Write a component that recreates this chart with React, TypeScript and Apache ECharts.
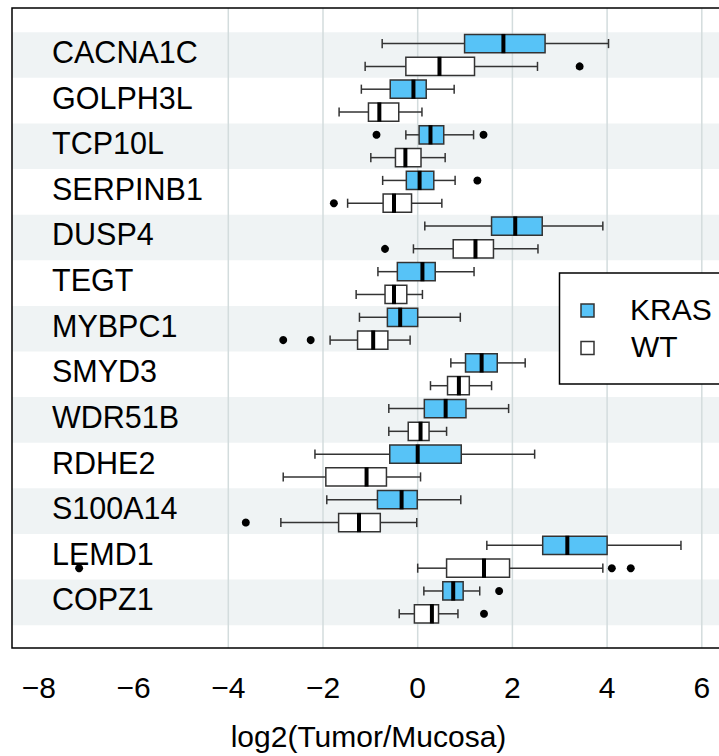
import React, { useEffect, useRef } from "react";
import * as echarts from "echarts";

const genes = ["CACNA1C", "GOLPH3L", "TCP10L", "SERPINB1", "DUSP4", "TEGT", "MYBPC1", "SMYD3", "WDR51B", "RDHE2", "S100A14", "LEMD1", "COPZ1"];
const groups = ["KRAS", "WT"];
const groupColors = ["#57c3f7", "#ffffff"];

// [low whisker, Q1, median, Q3, high whisker]
const krasStats = [
  [-0.75, 0.99, 1.81, 2.69, 4.03],
  [-1.19, -0.58, -0.09, 0.18, 0.77],
  [-0.25, 0.03, 0.27, 0.55, 1.18],
  [-0.74, -0.24, 0.04, 0.34, 0.79],
  [0.15, 1.56, 2.06, 2.63, 3.91],
  [-0.84, -0.43, 0.1, 0.37, 1.19],
  [-1.23, -0.64, -0.37, 0.0, 0.9],
  [0.7, 1.01, 1.35, 1.68, 2.27],
  [-0.61, 0.14, 0.59, 1.02, 1.92],
  [-2.17, -0.59, 0.0, 0.92, 2.47],
  [-1.92, -0.85, -0.34, -0.01, 0.91],
  [1.46, 2.64, 3.16, 4.0, 5.56],
  [0.13, 0.53, 0.75, 0.96, 1.31],
];
const wtStats = [
  [-1.11, -0.25, 0.46, 1.2, 2.53],
  [-1.66, -1.04, -0.81, -0.4, 0.09],
  [-0.99, -0.47, -0.26, 0.07, 0.58],
  [-1.48, -0.73, -0.5, -0.13, 0.51],
  [-0.09, 0.75, 1.22, 1.6, 2.54],
  [-1.3, -0.69, -0.5, -0.23, 0.1],
  [-1.85, -1.27, -0.94, -0.63, -0.16],
  [0.27, 0.63, 0.87, 1.09, 1.56],
  [-0.61, -0.2, 0.06, 0.24, 0.61],
  [-2.84, -1.94, -1.08, -0.66, 0.06],
  [-2.89, -1.67, -1.24, -0.79, -0.02],
  [0.0, 0.61, 1.4, 1.94, 3.91],
  [-0.39, -0.07, 0.3, 0.44, 0.85],
];
// outliers: [gene index, value]
const krasOutliers = [[2, -0.87], [2, 1.39], [3, 1.26], [12, 1.72]];
const wtOutliers = [[0, 3.42], [3, -1.77], [4, -0.69], [6, -2.84], [6, -2.26], [10, -3.63], [11, -7.15], [11, 4.1], [11, 4.5], [12, 1.4]];

const xTicks = [-8, -6, -4, -2, 0, 2, 4, 6];
const gridValues = [-4, -2, 0, 2, 4, 6];
const shadedRows = [0, 2, 4, 6, 8, 10, 12];
const xTitle = "log2(Tumor/Mucosa)";

const FONT = "'Liberation Sans', Arial, Helvetica, sans-serif";
const OFFSETS = [-0.25, 0.25];

function boxSeries(stats: number[][], gi: number) {
  return {
    type: "custom",
    name: groups[gi],
    z: 3,
    data: stats.map((s, i) => [i, ...s]),
    encode: { x: [1, 2, 3, 4, 5], y: 0 },
    renderItem: (params: any, api: any) => {
      const y = api.value(0) + OFFSETS[gi];
      const p = (k: number) => api.coord([api.value(k), y]);
      const lo = p(1), q1 = p(2), md = p(3), q3 = p(4), hi = p(5);
      const hh = Math.abs(api.size([0, 0.2])[1]);
      const ch = Math.abs(api.size([0, 0.1])[1]);
      const cy = lo[1];
      const ls = { stroke: "#333", lineWidth: 1.5 };
      return {
        type: "group",
        children: [
          { type: "line", shape: { x1: lo[0], y1: cy, x2: q1[0], y2: cy }, style: ls },
          { type: "line", shape: { x1: q3[0], y1: cy, x2: hi[0], y2: cy }, style: ls },
          { type: "line", shape: { x1: lo[0], y1: cy - ch, x2: lo[0], y2: cy + ch }, style: ls },
          { type: "line", shape: { x1: hi[0], y1: cy - ch, x2: hi[0], y2: cy + ch }, style: ls },
          { type: "rect", shape: { x: q1[0], y: cy - hh, width: q3[0] - q1[0], height: 2 * hh }, style: { fill: groupColors[gi], stroke: "#333", lineWidth: 1.5 } },
          { type: "line", shape: { x1: md[0], y1: cy - hh - 0.5, x2: md[0], y2: cy + hh + 0.5 }, style: { stroke: "#000", lineWidth: 4 } },
        ],
      };
    },
  };
}

export default function App() {
  const ref = useRef<HTMLDivElement>(null);
  useEffect(() => {
    if (!ref.current) return;
    const chart = echarts.init(ref.current, null, { renderer: "svg" });
    const option: any = {
      animation: false,
      backgroundColor: "#ffffff",
      textStyle: { fontFamily: FONT },
      grid: { left: 12, top: 8, width: 713, height: 640, show: true, borderColor: "#000", borderWidth: 1.5, backgroundColor: "transparent", z: 10 },
      xAxis: {
        type: "value",
        min: -8.568,
        max: 6.49,
        axisLine: { show: false },
        axisTick: { show: true, length: 12, inside: false, lineStyle: { color: "#000", width: 1.5 }, customValues: xTicks },
        axisLabel: { show: true, customValues: xTicks, fontSize: 30, color: "#000", fontFamily: FONT, margin: 24, formatter: (v: number) => String(v).replace("-", "\u2212") },
        splitLine: { show: false },
        name: xTitle,
        nameLocation: "middle",
        nameGap: 73,
        nameTextStyle: { fontSize: 30, color: "#000", fontFamily: FONT },
      },
      yAxis: {
        type: "value",
        inverse: true,
        min: -1.03,
        max: 13,
        axisLine: { show: false },
        axisTick: { show: false },
        splitLine: { show: false },
        axisLabel: { show: false },
      },
      series: [
        {
          type: "custom",
          name: "bands",
          z: 1,
          silent: true,
          data: shadedRows.map((r) => [0, r]),
          encode: { x: 0, y: 1 },
          renderItem: (params: any, api: any) => {
            const cs = params.coordSys;
            const r = api.value(1);
            const t = api.coord([0, r - 0.5])[1];
            const b = api.coord([0, r + 0.5])[1];
            return { type: "rect", shape: { x: cs.x, y: Math.min(t, b), width: cs.width, height: Math.abs(b - t) }, style: { fill: "#eff3f4" } };
          },
        },
        {
          type: "custom",
          name: "gridlines",
          z: 2,
          silent: true,
          data: gridValues.map((v) => [v, 0]),
          encode: { x: 0, y: 1 },
          renderItem: (params: any, api: any) => {
            const cs = params.coordSys;
            const x = api.coord([api.value(0), 0])[0];
            return { type: "line", shape: { x1: x, y1: cs.y, x2: x, y2: cs.y + cs.height }, style: { stroke: "#d3dcdd", lineWidth: 1.5 } };
          },
        },
        {
          type: "custom",
          name: "gene labels",
          z: 5,
          silent: true,
          data: genes.map((_, i) => [0, i]),
          encode: { x: 0, y: 1 },
          renderItem: (params: any, api: any) => {
            const cs = params.coordSys;
            const i = api.value(1);
            const y = api.coord([0, i])[1];
            return { type: "text", x: cs.x + 40, y: y - 3, style: { text: genes[i], fontSize: 30.5, fill: "#000", fontFamily: FONT, verticalAlign: "middle", align: "left" } };
          },
        },
        boxSeries(krasStats, 0),
        boxSeries(wtStats, 1),
        {
          type: "scatter",
          name: "KRAS outliers",
          z: 6,
          symbolSize: 8,
          itemStyle: { color: "#000", opacity: 1 },
          data: krasOutliers.map(([g, v]) => [v, g + OFFSETS[0]]),
        },
        {
          type: "scatter",
          name: "WT outliers",
          z: 6,
          symbolSize: 8,
          itemStyle: { color: "#000", opacity: 1 },
          data: wtOutliers.map(([g, v]) => [v, g + OFFSETS[1]]),
        },
      ],
      graphic: [
        { type: "rect", z: 20, shape: { x: 559.5, y: 273, width: 200, height: 111 }, style: { fill: "#fff", stroke: "#000", lineWidth: 1.5 } },
        { type: "rect", z: 21, shape: { x: 581, y: 304, width: 13, height: 13 }, style: { fill: groupColors[0], stroke: "#333", lineWidth: 1.5 } },
        { type: "rect", z: 21, shape: { x: 581, y: 341.5, width: 13, height: 13 }, style: { fill: groupColors[1], stroke: "#333", lineWidth: 1.5 } },
        { type: "text", z: 21, x: 630, y: 309, style: { text: groups[0], fontSize: 30, fill: "#000", fontFamily: FONT, verticalAlign: "middle", align: "left" } },
        { type: "text", z: 21, x: 631, y: 346, style: { text: groups[1], fontSize: 30, fill: "#000", fontFamily: FONT, verticalAlign: "middle", align: "left" } },
      ],
    };
    chart.setOption(option);
    return () => chart.dispose();
  }, []);
  return (
    <div style={{ position: "fixed", left: 0, top: 0, width: 719, height: 756, overflow: "hidden", background: "#fff" }}>
      <div ref={ref} style={{ width: 740, height: 756 }} />
    </div>
  );
}
